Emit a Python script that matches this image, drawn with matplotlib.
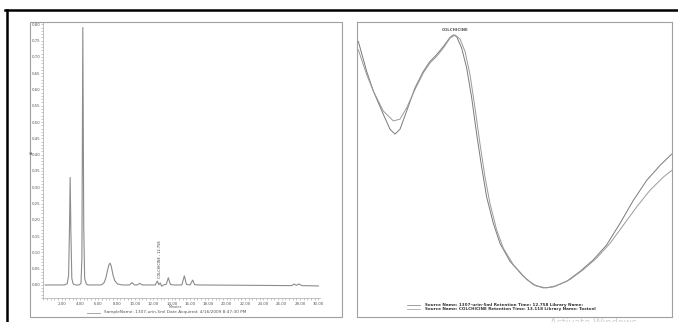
import matplotlib
matplotlib.use("Agg")
import matplotlib.pyplot as plt
from matplotlib.lines import Line2D
from matplotlib.patches import Rectangle
from matplotlib.ticker import MultipleLocator, FormatStrFormatter

# chromatogram trace (minutes, AU)
rt_min = [0.2, 2.3, 2.6, 2.75, 2.85, 2.92, 3.0, 3.1, 3.25, 3.5,
          3.9, 4.1, 4.2, 4.3, 4.4, 4.5, 4.7, 4.9,
          6.3, 6.6, 6.8, 7.0, 7.15, 7.27, 7.4, 7.6, 7.8, 8.1, 8.6,
          9.4, 9.65, 9.95, 10.25, 10.5, 10.8,
          12.2, 12.43, 12.6, 12.75, 12.9, 13.1, 13.4, 13.63, 13.85, 14.2,
          15.1, 15.38, 15.6, 16.0, 16.29, 16.5, 17.0,
          27.1, 27.35, 27.6, 27.9, 28.2, 30.0]
au = [0.0, 0.0, 0.004, 0.03, 0.18, 0.33, 0.16, 0.02, 0.003, 0.0,
      0.0, 0.005, 0.08, 0.79, 0.18, 0.02, 0.002, 0.0,
      0.0, 0.006, 0.02, 0.045, 0.062, 0.067, 0.058, 0.03, 0.012, 0.003, 0.0,
      0.0, 0.007, 0.0, 0.0, 0.005, 0.0,
      0.0, 0.012, 0.001, 0.006, -0.004, 0.0, 0.002, 0.022, 0.002, 0.0,
      0.0, 0.028, 0.002, 0.0, 0.015, 0.001, 0.0,
      -0.002, 0.003, -0.001, 0.003, -0.002, -0.003]

y_ticks = [0.00, 0.05, 0.10, 0.15, 0.20, 0.25, 0.30, 0.35, 0.40,
           0.45, 0.50, 0.55, 0.60, 0.65, 0.70, 0.75, 0.80]
x_ticks = [2, 4, 6, 8, 10, 12, 14, 16, 18, 20, 22, 24, 26, 28, 30]

peak_label = "COLCHICINE - 12.758"
peak_rt = 12.758
sample_legend = "SampleName: 1307-urin-5ml Date Acquired: 4/16/2009 8:47:30 PM"

# UV spectra (nm, relative absorbance)
wl_a = [210, 215, 219, 225, 229, 232, 235, 239, 244, 249, 253, 257, 261, 265,
        267, 269, 272, 275, 278, 281, 284, 287, 291, 295, 301, 309, 315, 321,
        327, 335, 343, 351, 359, 367, 375, 383, 391, 398]
abs_a = [0.974, 0.856, 0.778, 0.686, 0.627, 0.608, 0.627, 0.699, 0.791, 0.856,
         0.895, 0.922, 0.954, 0.990, 1.0, 0.993, 0.948, 0.869, 0.752, 0.608,
         0.477, 0.359, 0.255, 0.176, 0.105, 0.046, 0.013, 0.0, 0.004, 0.026,
         0.065, 0.111, 0.170, 0.255, 0.346, 0.425, 0.484, 0.529]
wl_b = [210, 215, 219, 225, 231, 235, 239, 244, 249, 253, 257, 261, 265, 268,
        271, 274, 277, 280, 283, 286, 289, 293, 297, 303, 311, 317, 323, 329,
        337, 345, 353, 361, 369, 377, 385, 393, 398]
abs_b = [0.941, 0.843, 0.778, 0.699, 0.660, 0.667, 0.712, 0.784, 0.850, 0.889,
         0.915, 0.948, 0.987, 1.0, 0.984, 0.935, 0.843, 0.712, 0.569, 0.438,
         0.333, 0.229, 0.157, 0.092, 0.033, 0.007, 0.0, 0.009, 0.033, 0.072,
         0.118, 0.176, 0.248, 0.320, 0.386, 0.438, 0.464]
spec_legend = ["Source Name: 1307-urin-5ml Retention Time: 12.758 Library Name:",
               "Source Name: COLCHICINE Retention Time: 13.118 Library Name: Toxtool"]
spec_peak = "COLCHICINE"

W, H = 678, 322


def fx(x):
    return x / W


def fy(y):
    return 1 - y / H


fig = plt.figure(figsize=(6.78, 3.22), dpi=100)
fig.patch.set_facecolor("white")

# outer black frame (top and left)
fig.add_artist(Line2D([fx(5), 1], [fy(9.5), fy(9.5)], color="black", lw=1.8))
fig.add_artist(Line2D([fx(6.5), fx(6.5)], [fy(9.5), 0], color="black", lw=1.8))

# panel box for the chromatogram
fig.add_artist(Rectangle((fx(30), fy(317)), fx(342) - fx(30), fy(22) - fy(317),
                         fill=False, edgecolor="#a0a0a0", lw=0.8))

# ---- left: chromatogram
ax = fig.add_axes([fx(43.4), fy(298), fx(320.2) - fx(43.4), fy(22) - fy(298)])
ax.plot(rt_min, au, color="#8c8c8c", lw=0.8)
ax.set_xlim(0, 30.2)
ax.set_ylim(-0.040, 0.807)
ax.set_yticks(y_ticks)
ax.set_xticks(x_ticks)
ax.yaxis.set_major_formatter(FormatStrFormatter("%.2f"))
ax.xaxis.set_major_formatter(FormatStrFormatter("%.2f"))
ax.yaxis.set_minor_locator(MultipleLocator(0.01))
ax.xaxis.set_minor_locator(MultipleLocator(0.4))
ax.tick_params(which="both", colors="#999999", labelcolor="#555555",
               labelsize=2.8, length=1.2, width=0.4, pad=1.0)
ax.tick_params(axis="x", pad=2.0)
for s in ["top", "right"]:
    ax.spines[s].set_visible(False)
for s in ["left", "bottom"]:
    ax.spines[s].set_color("#aaaaaa")
    ax.spines[s].set_linewidth(0.5)
ax.patch.set_alpha(0)
ax.text(peak_rt, 0.022, peak_label, rotation=90, ha="center", va="bottom",
        fontsize=2.5, color="#333333")
fig.text(fx(32.3), fy(152), "AU", rotation=90, fontsize=2.2, color="#555555",
         ha="center", va="center")
fig.text(fx(175), fy(307.5), "Minutes", fontsize=2.4, color="#555555",
         ha="center", va="center")
fig.add_artist(Line2D([fx(87), fx(100)], [fy(312.5), fy(312.5)], color="#999999", lw=0.6))
fig.text(fx(104), fy(312.5), sample_legend, fontsize=3.1, color="#555555",
         ha="left", va="center")

# ---- right: spectra
ax2 = fig.add_axes([fx(357), fy(317), fx(672) - fx(357), fy(22) - fy(317)])
ax2.plot(wl_a, abs_a, color="#7a7a7a", lw=0.7)
ax2.plot(wl_b, abs_b, color="#9a9a9a", lw=0.7)
ax2.set_xlim(209.2, 398.2)
ax2.set_ylim(-0.115, 1.051)
ax2.set_xticks([])
ax2.set_yticks([])
for s in ax2.spines.values():
    s.set_color("#a0a0a0")
    s.set_linewidth(0.8)
ax2.text(268, 1.01, spec_peak, ha="center", va="bottom", fontsize=2.8,
         fontweight="bold", color="#555555")

for i, (txt, col) in enumerate(zip(spec_legend, ["#7a7a7a", "#9a9a9a"])):
    yy = 305 + 4 * i
    fig.add_artist(Line2D([fx(407), fx(420)], [fy(yy), fy(yy)], color=col, lw=0.5))
    fig.text(fx(425), fy(yy), txt, fontsize=3.0, fontweight="bold",
             color="#333333", ha="left", va="center")

# faint watermark, cut by the bottom edge as in the screenshot
fig.text(fx(550), fy(318.5), "Activate Windows", fontsize=7, color="#d0d0d0",
         ha="left", va="top")

fig.savefig("out.png", dpi=100)
